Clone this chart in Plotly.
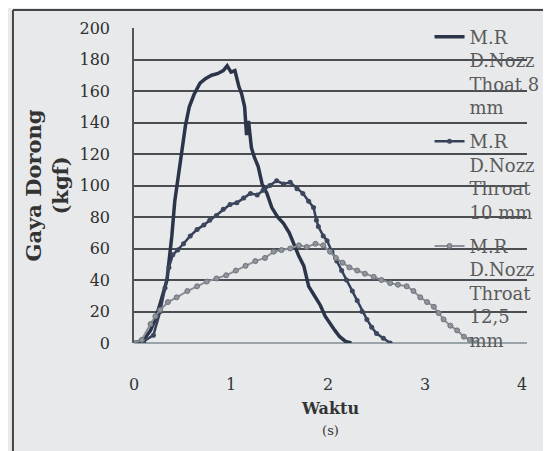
import plotly.graph_objects as go

# Waktu (s) and Gaya Dorong (kgf)
t_8 = [0, 0.1, 0.17, 0.22, 0.27, 0.31, 0.34, 0.37, 0.39, 0.42, 0.45, 0.48, 0.53, 0.57,
       0.62, 0.68, 0.74, 0.80, 0.86, 0.92, 0.96, 1.00, 1.04, 1.08, 1.11, 1.14, 1.16,
       1.18, 1.21, 1.24, 1.28, 1.32, 1.37, 1.42, 1.48, 1.54, 1.60, 1.65, 1.70, 1.75,
       1.80, 1.86, 1.92, 1.97, 2.02, 2.07, 2.12, 2.18, 2.24]
f_8 = [0, 2, 8, 15, 25, 33, 40, 57, 68, 90, 105, 116, 138, 150,
       158, 165, 168, 170, 171, 173, 176, 172, 173, 163, 158, 150, 132,
       141, 124, 118, 112, 101, 95, 86, 80, 76, 70, 62, 55, 49,
       36, 30, 24, 17, 12, 8, 4, 1, 0]

t_10 = [0, 0.1, 0.2, 0.27, 0.32, 0.36, 0.40, 0.45, 0.51, 0.58, 0.65, 0.72, 0.78, 0.85,
        0.92, 0.99, 1.06, 1.13, 1.20, 1.27, 1.33, 1.40, 1.47, 1.54, 1.61, 1.68, 1.74,
        1.80, 1.85, 1.88, 1.90, 1.95, 1.99, 2.04, 2.09, 2.14, 2.19, 2.25, 2.30, 2.35,
        2.40, 2.45, 2.50, 2.57, 2.64]
f_10 = [0, 1, 5, 20, 35, 48, 56, 59, 63, 68, 72, 75, 78, 81,
        85, 88, 89, 92, 95, 94, 97, 100, 103, 101, 102, 98, 95,
        90, 86, 78, 74, 68, 65, 58, 52, 46, 40, 33, 27, 20,
        15, 10, 6, 3, 0]

t_12 = [0, 0.08, 0.17, 0.22, 0.27, 0.35, 0.44, 0.55, 0.65, 0.75, 0.85, 0.95, 1.05,
        1.15, 1.25, 1.35, 1.44, 1.52, 1.61, 1.70, 1.78, 1.87, 1.95, 2.02, 2.08, 2.15,
        2.22, 2.30, 2.38, 2.47, 2.55, 2.64, 2.72, 2.81, 2.88, 2.95, 3.02, 3.09, 3.14,
        3.19, 3.26, 3.33, 3.40, 3.46, 3.53]
f_12 = [0, 2, 12, 17, 21, 26, 29, 33, 36, 39, 41, 43, 46,
        49, 52, 54, 58, 59, 60, 62, 61, 63, 62, 58, 54, 51,
        48, 46, 44, 42, 40, 38, 37, 36, 33, 29, 26, 23, 19,
        15, 11, 8, 4, 2, 0]

names = ["M.R<br>D.Nozz<br>Thoat 8<br>mm",
         "M.R<br>D.Nozz<br>Throat<br>10 mm",
         "M.R<br>D.Nozz<br>Throat<br>12,5<br>mm"]

y_ticks = [0, 20, 40, 60, 80, 100, 120, 140, 160, 180, 200]
x_ticks = [0, 1, 2, 3, 4]

BG = "#e7e9eb"
SERIF = "DejaVu Serif"

fig = go.Figure()
fig.add_trace(go.Scatter(x=t_8, y=f_8, name=names[0], mode="lines",
                         line=dict(color="#2b3448", width=3.5), legendgroup="a"))
fig.add_trace(go.Scatter(x=t_10, y=f_10, name=names[1], mode="lines+markers",
                         line=dict(color="#36405a", width=2.5),
                         marker=dict(size=5, color="#3c465c"), legendgroup="b"))
fig.add_trace(go.Scatter(x=t_12, y=f_12, name=names[2], mode="lines+markers",
                         line=dict(color="#8b9098", width=2),
                         marker=dict(size=5, color="#8f949b", line=dict(color="#6f747c", width=1)),
                         legendgroup="c"))

fig.update_layout(
    width=551, height=451,
    paper_bgcolor=BG, plot_bgcolor=BG,
    margin=dict(l=126, r=32, t=20, b=116, autoexpand=False),
    font=dict(family=SERIF, color="#333333", size=15),
    showlegend=True,
    legend=dict(x=0.752, y=1.03, xanchor="left", yanchor="top",
                bgcolor="rgba(0,0,0,0)", borderwidth=0, maxheight=420,
                font=dict(family=SERIF, size=18, color="#5a5a5a"),
                valign="top", tracegroupgap=8),
    xaxis=dict(range=[0, 4.05], tickvals=x_ticks, ticktext=[str(v) for v in x_ticks],
               showgrid=False, zeroline=False, showline=False, ticks="",
               ticklabelstandoff=30, automargin=False,
               tickfont=dict(family=SERIF, size=16, color="#333333"),
               title=dict(text="<b>Waktu</b><br><span style='font-size:13px'>(s)</span>",
                          font=dict(family=SERIF, size=16, color="#333333"), standoff=9)),
    yaxis=dict(range=[0, 200], tickvals=y_ticks,
               showgrid=True, gridcolor="#4a4d52", gridwidth=1.5,
               zeroline=True, zerolinecolor="#9aa3a8", zerolinewidth=1.5,
               showline=True, linecolor="#555555", linewidth=1.5,
               ticks="", ticklabelstandoff=19, automargin=False,
               tickfont=dict(family=SERIF, size=16, color="#2f2f2f"),
               title=dict(text="<b>Gaya Dorong</b><br><b>(kgf)</b>",
                          font=dict(family=SERIF, size=21, color="#333333"), standoff=5)),
    shapes=[
        dict(type="line", xref="paper", yref="paper", x0=-0.308, x1=1.1, y0=1.057, y1=1.057,
             line=dict(color="#444444", width=2)),
        dict(type="line", xref="paper", yref="paper", x0=-0.308, x1=-0.308, y0=-0.4, y1=1.057,
             line=dict(color="#444444", width=2)),
    ],
)

fig.write_html("out.html")
